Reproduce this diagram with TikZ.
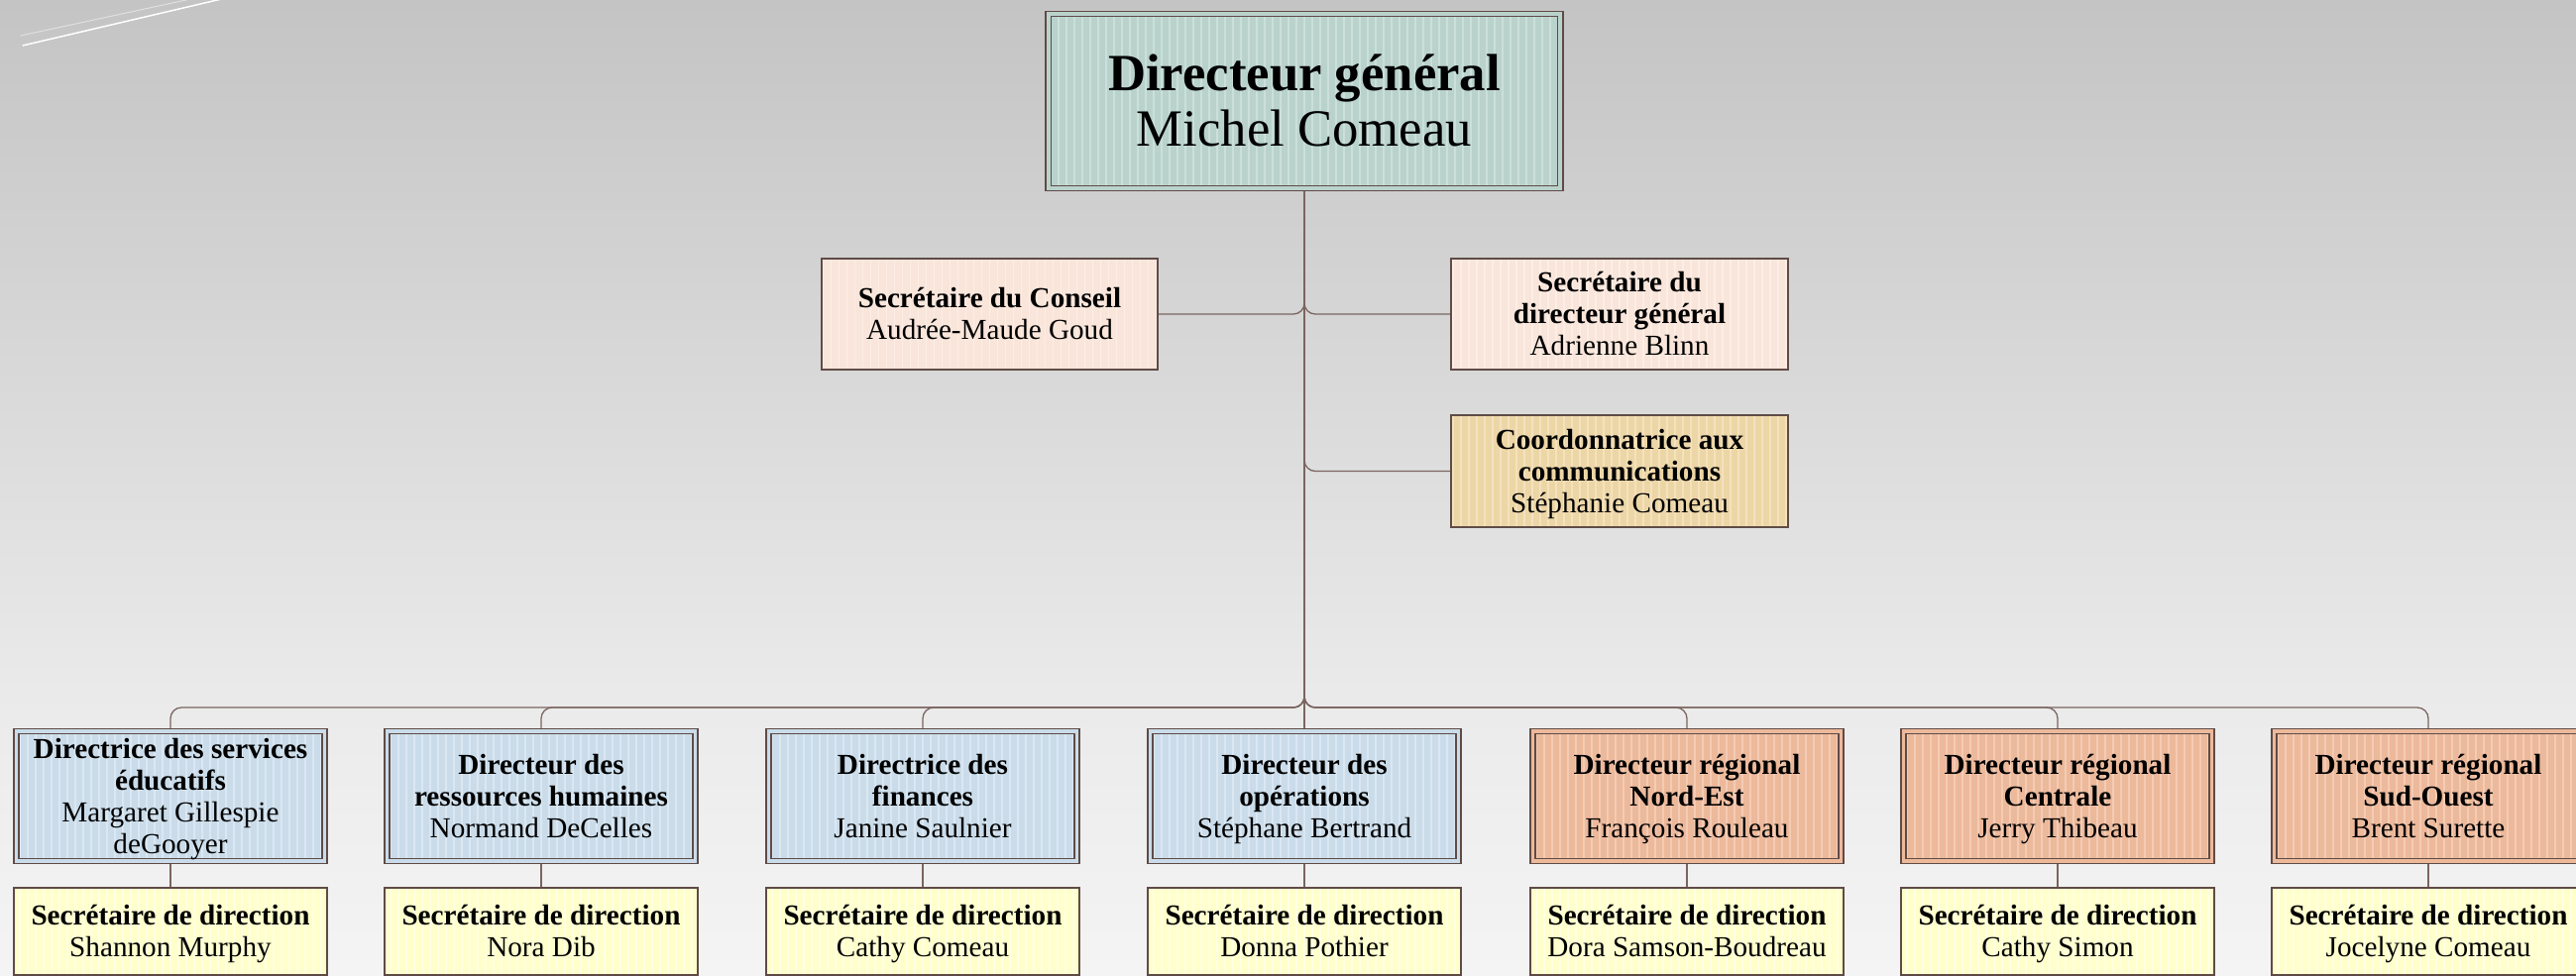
\documentclass[tikz,border=0pt]{standalone}
\usepackage{fontspec}
\setmainfont{Liberation Serif}
\pgfdeclarelayer{behind}
\pgfsetlayers{behind,main}
\definecolor{bgtop}{HTML}{C4C4C4}
\definecolor{bgmid}{HTML}{EBEBEB}
\definecolor{bgbot}{HTML}{F4F4F4}
\pgfdeclareverticalshading{bgshade}{100bp}{color(0bp)=(bgbot); color(25bp)=(bgbot); color(38.5bp)=(bgmid); color(75bp)=(bgtop); color(100bp)=(bgtop)}
\definecolor{edge}{HTML}{5F4B46}
\definecolor{link}{HTML}{7B6560}
\definecolor{tealf}{HTML}{B9D3CC}
\definecolor{tealL}{HTML}{CCDFDA}
\definecolor{peachf}{HTML}{F9E5DA}
\definecolor{peachL}{HTML}{FCEEE6}
\definecolor{tanf}{HTML}{EDD6A6}
\definecolor{tanL}{HTML}{F3E2BF}
\definecolor{bluef}{HTML}{CADCEA}
\definecolor{blueL}{HTML}{DBE7F1}
\definecolor{orangef}{HTML}{EDB99B}
\definecolor{orangeL}{HTML}{F3CCB5}
\definecolor{yellowf}{HTML}{FFFFCC}
\definecolor{yellowL}{HTML}{FFFFE3}
\tikzset{
  stripes/.style={path picture={
    \foreach \k in {-34,...,34}
      \draw[draw=#1, line width=0.015cm]
        ([xshift=\k*0.08cm]path picture bounding box.south) --
        ([xshift=\k*0.08cm]path picture bounding box.north);
  }},
  box/.style={rectangle, align=center, inner sep=0pt, outer sep=0pt, text=black,
    font=\fontsize{8.3}{9.1}\selectfont, text depth=0.2pt},
  dbl/.style 2 args={box, draw=edge, line width=0.016cm, double=#1,
    double distance=0.036cm, fill=#1, stripes=#2},
  sgl/.style 2 args={box, draw=edge, line width=0.02cm, fill=#1, stripes=#2},
  dgbox/.style={dbl={tealf}{tealL}, minimum width=5.16cm, minimum height=1.76cm,
    font=\fontsize{15}{16}\selectfont, text depth=0.32pt},
  sidebox/.style={sgl={peachf}{peachL}, minimum width=3.39cm, minimum height=1.12cm},
  coordbox/.style={sgl={tanf}{tanL}, minimum width=3.39cm, minimum height=1.13cm},
  bluebox/.style={dbl={bluef}{blueL}, minimum width=3.11cm, minimum height=1.31cm},
  orangebox/.style={dbl={orangef}{orangeL}, minimum width=3.11cm, minimum height=1.31cm},
  secbox/.style={sgl={yellowf}{yellowL}, minimum width=3.15cm, minimum height=0.88cm},
  conn/.style={draw=link, line width=0.013cm, rounded corners=0.11cm},
}
\begin{document}
\begin{tikzpicture}[x=0.01cm,y=-0.01cm]
\useasboundingbox (0,0) rectangle (2599,984);
\begin{pgfonlayer}{behind}
\fill[shading=bgshade] (0,0) rectangle (2599,984);
\end{pgfonlayer}
% decorative lines
\draw[draw=white!88!black, line width=0.01cm] (20.7,36) -- (204,-3.5);
\draw[draw=white, line width=0.015cm] (22.7,46) -- (232,-3);

% top
\node[dgbox] (dg) at (1316,102) {\textbf{Directeur général}\\Michel Comeau};
\node[sidebox] (cons) at (998.5,317) {\textbf{Secrétaire du Conseil}\\Audrée-Maude Goud};
\node[sidebox] (secdg) at (1634,317) {\textbf{Secrétaire du}\\\textbf{directeur général}\\Adrienne Blinn};
\node[coordbox] (coord) at (1634,475.5) {\textbf{Coordonnatrice aux}\\\textbf{communications}\\Stéphanie Comeau};

% directors
\node[bluebox] (b1) at (172,803.5) {\textbf{Directrice des services}\\\textbf{éducatifs}\\Margaret Gillespie\\deGooyer};
\node[bluebox] (b2) at (546,803.5) {\textbf{Directeur des}\\\textbf{ressources humaines}\\Normand DeCelles};
\node[bluebox] (b3) at (931,803.5) {\textbf{Directrice des}\\\textbf{finances}\\Janine Saulnier};
\node[bluebox] (b4) at (1316,803.5) {\textbf{Directeur des}\\\textbf{opérations}\\Stéphane Bertrand};
\node[orangebox] (b5) at (1702,803.5) {\textbf{Directeur régional}\\\textbf{Nord-Est}\\François Rouleau};
\node[orangebox] (b6) at (2076,803.5) {\textbf{Directeur régional}\\\textbf{Centrale}\\Jerry Thibeau};
\node[orangebox] (b7) at (2450,803.5) {\textbf{Directeur régional}\\\textbf{Sud-Ouest}\\Brent Surette};

% secretaries
\node[secbox] (s1) at (172,940) {\textbf{Secrétaire de direction}\\Shannon Murphy};
\node[secbox] (s2) at (546,940) {\textbf{Secrétaire de direction}\\Nora Dib};
\node[secbox] (s3) at (931,940) {\textbf{Secrétaire de direction}\\Cathy Comeau};
\node[secbox] (s4) at (1316,940) {\textbf{Secrétaire de direction}\\Donna Pothier};
\node[secbox] (s5) at (1702,940) {\textbf{Secrétaire de direction}\\Dora Samson-Boudreau};
\node[secbox] (s6) at (2076,940) {\textbf{Secrétaire de direction}\\Cathy Simon};
\node[secbox] (s7) at (2450,940) {\textbf{Secrétaire de direction}\\Jocelyne Comeau};

\begin{pgfonlayer}{behind}
\path (dg.south) ++(0,524) coordinate (bus);
\draw[conn] (dg.south) |- (cons.east);
\draw[conn] (dg.south) |- (secdg.west);
\draw[conn] (dg.south) |- (coord.west);
\foreach \n in {b1,b2,b3,b5,b6,b7}
  \draw[conn] (dg.south) -- (bus) -| (\n.north);
\draw[conn] (dg.south) -- (b4.north);
\foreach \i in {1,...,7}
  \draw[conn] (b\i.south) -- (s\i.north);
\end{pgfonlayer}
\end{tikzpicture}
\end{document}
